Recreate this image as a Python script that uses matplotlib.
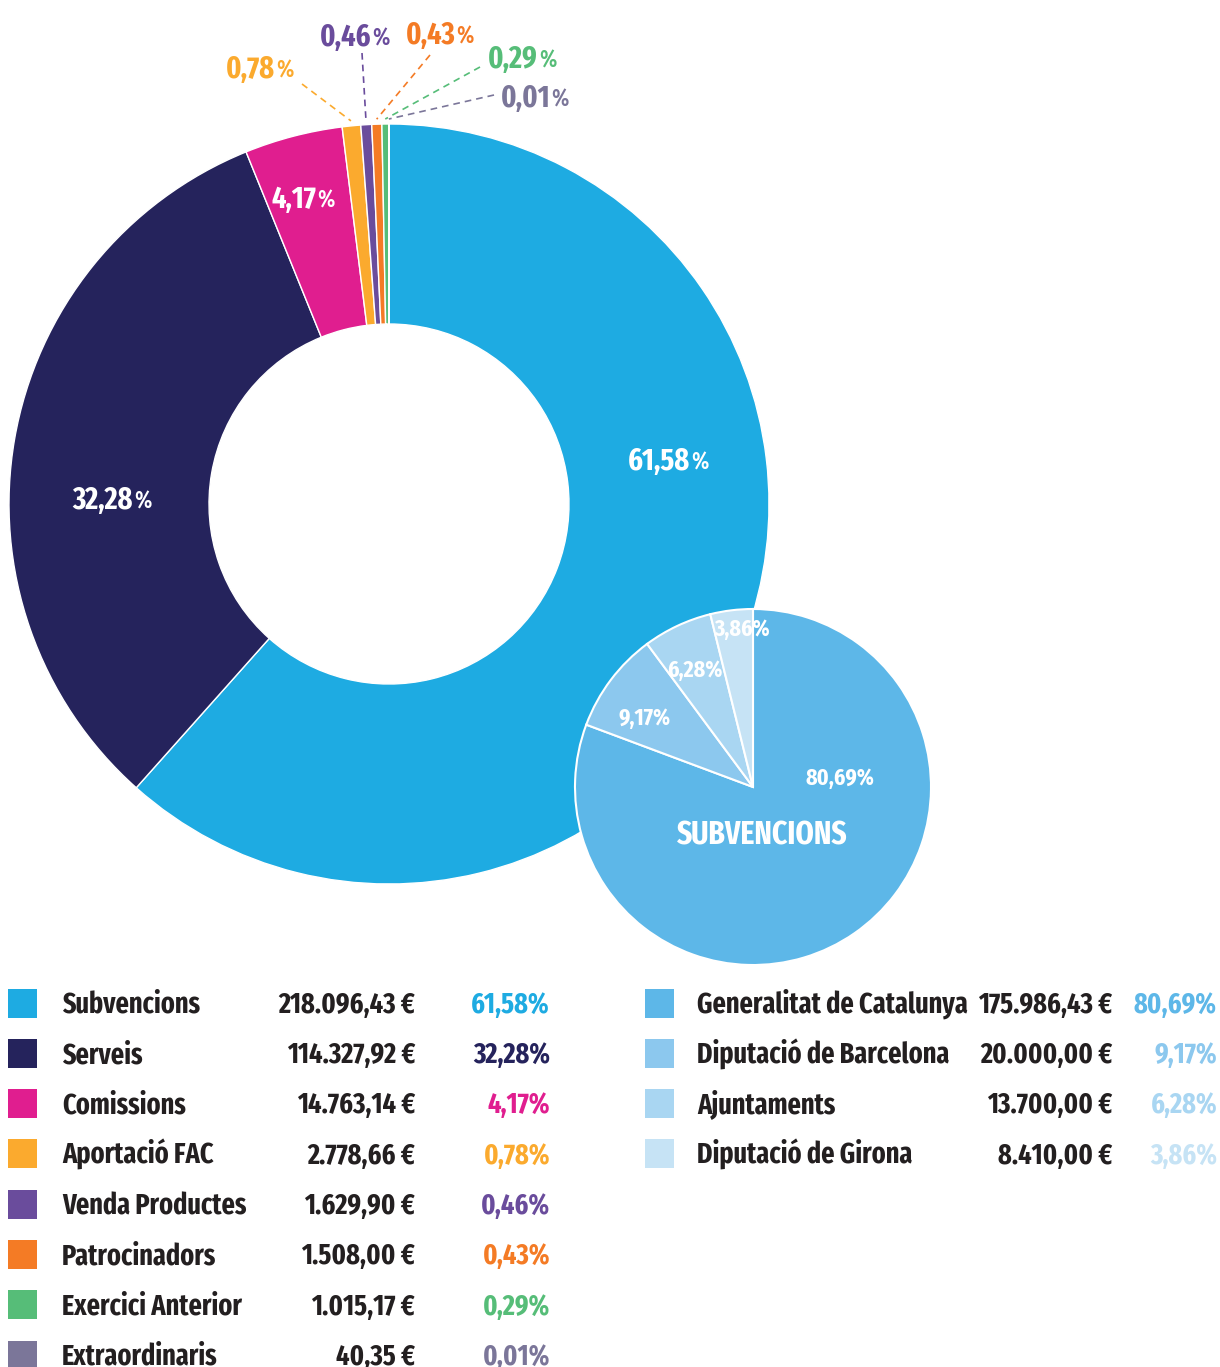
import matplotlib
matplotlib.use("Agg")
import matplotlib.pyplot as plt
from matplotlib.patches import Rectangle
import numpy as np

W, H = 1220, 1367
plt.rcParams["font.family"] = ["Fira Sans Extra Condensed", "Barlow Condensed", "Roboto Condensed", "DejaVu Sans"]
plt.rcParams["font.weight"] = "bold"
DARK = "#231F20"

# dades principals
categories = ["Subvencions", "Serveis", "Comissions", "Aportació FAC", "Venda Productes",
              "Patrocinadors", "Exercici Anterior", "Extraordinaris"]
amounts = [218096.43, 114327.92, 14763.14, 2778.66, 1629.90, 1508.00, 1015.17, 40.35]
colors = ["#1EABE2", "#25235C", "#E01E8F", "#FBAA2E", "#6A4C9C", "#F47B25", "#56BD78", "#7B7699"]

# detall de subvencions
sub_categories = ["Generalitat de Catalunya", "Diputació de Barcelona", "Ajuntaments", "Diputació de Girona"]
sub_amounts = [175986.43, 20000.00, 13700.00, 8410.00]
sub_colors = ["#5DB7E8", "#8CC8EE", "#A9D6F2", "#C6E3F5"]


def num_text(v, total):
    return f"{100 * v / total:.2f}".replace(".", ",")


def pct_text(v, total):
    return num_text(v, total) + "%"


def euro_text(v):
    s = f"{v:,.2f}"
    s = s.replace(",", "X").replace(".", ",").replace("X", ".")
    return s + " €"


def Y(y):
    # coordenades de pixel amb l'origen a dalt
    return H - y


def base(y, size):
    # y = centre de les majúscules -> línia base
    return Y(y) - size * 100 / 72 * 0.69 / 2


def label(x, y, s, size, color, ha="center"):
    ax.text(x, base(y, size), s, fontsize=size, color=color, ha=ha, va="baseline")


def pct_label(x, y, v, total, size, color, ha="center"):
    # número gran i signe % més petit i prim
    t1 = ax.text(0, base(y, size), num_text(v, total), fontsize=size, color=color,
                 ha="left", va="baseline")
    t2 = ax.text(0, base(y, size), "%", fontsize=size * 0.8, color=color, weight="medium",
                 ha="left", va="baseline")
    r = fig.canvas.get_renderer()
    w1 = t1.get_window_extent(r).width
    w2 = t2.get_window_extent(r).width
    x0 = x - (w1 + w2 + 1) / 2 if ha == "center" else x
    t1.set_x(x0)
    t2.set_x(x0 + w1 + 1)


fig = plt.figure(figsize=(W / 100, H / 100), dpi=100)
ax = fig.add_axes([0, 0, 1, 1])
ax.set_xlim(0, W)
ax.set_ylim(0, H)

total = sum(amounts)
sub_total = sum(sub_amounts)

# donut principal
c1 = (389, Y(504))
r1 = 380
ax.pie(amounts, colors=colors, startangle=90, counterclock=False, center=c1, radius=r1,
       wedgeprops=dict(width=200, edgecolor="white", linewidth=1))

# pastís de subvencions
c2 = (753, Y(787))
r2 = 178
ax.pie(sub_amounts, colors=sub_colors, startangle=90, counterclock=False, center=c2, radius=r2,
       wedgeprops=dict(edgecolor="white", linewidth=1.5))

ax.set_xlim(0, W)
ax.set_ylim(0, H)
ax.set_aspect("auto")
ax.axis("off")

# etiquetes dins el donut
inner_pos = {0: (668, 459), 1: (112, 498), 2: (303, 197)}
for i, (x, y) in inner_pos.items():
    pct_label(x, y, amounts[i], total, 22, "white")

# etiquetes petites amb línia discontínua
small_pos = {3: ((260, 67), (302, 84), "center"),
             4: ((355, 35), (362, 53), "center"),
             5: ((440, 33), (430, 55), "center"),
             6: ((488, 57), (480, 67), "left"),
             7: ((501, 96), (494, 95), "left")}
cum = np.cumsum([0] + amounts) / total
for i, ((tx, ty), (lx, ly), ha) in small_pos.items():
    mid = (cum[i] + cum[i + 1]) / 2
    ang = np.radians(90 - 360 * mid)
    ex = c1[0] + (r1 + 5) * np.cos(ang)
    ey = c1[1] + (r1 + 5) * np.sin(ang)
    ax.plot([lx, ex], [Y(ly), ey], color=colors[i], lw=1.2, ls=(0, (4, 3)))
    pct_label(tx, ty, amounts[i], total, 22, colors[i], ha=ha)

# etiquetes del pastís de subvencions
sub_pos = [(840, 777), (645, 717), (695, 669), (742, 628)]
for i, (x, y) in enumerate(sub_pos):
    label(x, y, pct_text(sub_amounts[i], sub_total), 17, "white")
label(762, 833, "SUBVENCIONS", 23, "white")

# taules de llegenda
row0, step = 1003, 50.3
fs = 20.5
for i, name in enumerate(categories):
    y = row0 + i * step
    ax.add_patch(Rectangle((8, Y(y) - 14.5), 29, 29, color=colors[i], lw=0))
    label(62, y, name, fs, DARK, ha="left")
    label(415, y, euro_text(amounts[i]), fs, DARK, ha="right")
    label(550, y, pct_text(amounts[i], total), fs, colors[i], ha="right")

for i, name in enumerate(sub_categories):
    y = row0 + i * step
    ax.add_patch(Rectangle((645, Y(y) - 14.5), 29, 29, color=sub_colors[i], lw=0))
    label(697, y, name, fs, DARK, ha="left")
    label(1112, y, euro_text(sub_amounts[i]), fs, DARK, ha="right")
    label(1217, y, pct_text(sub_amounts[i], sub_total), fs, sub_colors[i], ha="right")

fig.savefig("out.png", dpi=100)
